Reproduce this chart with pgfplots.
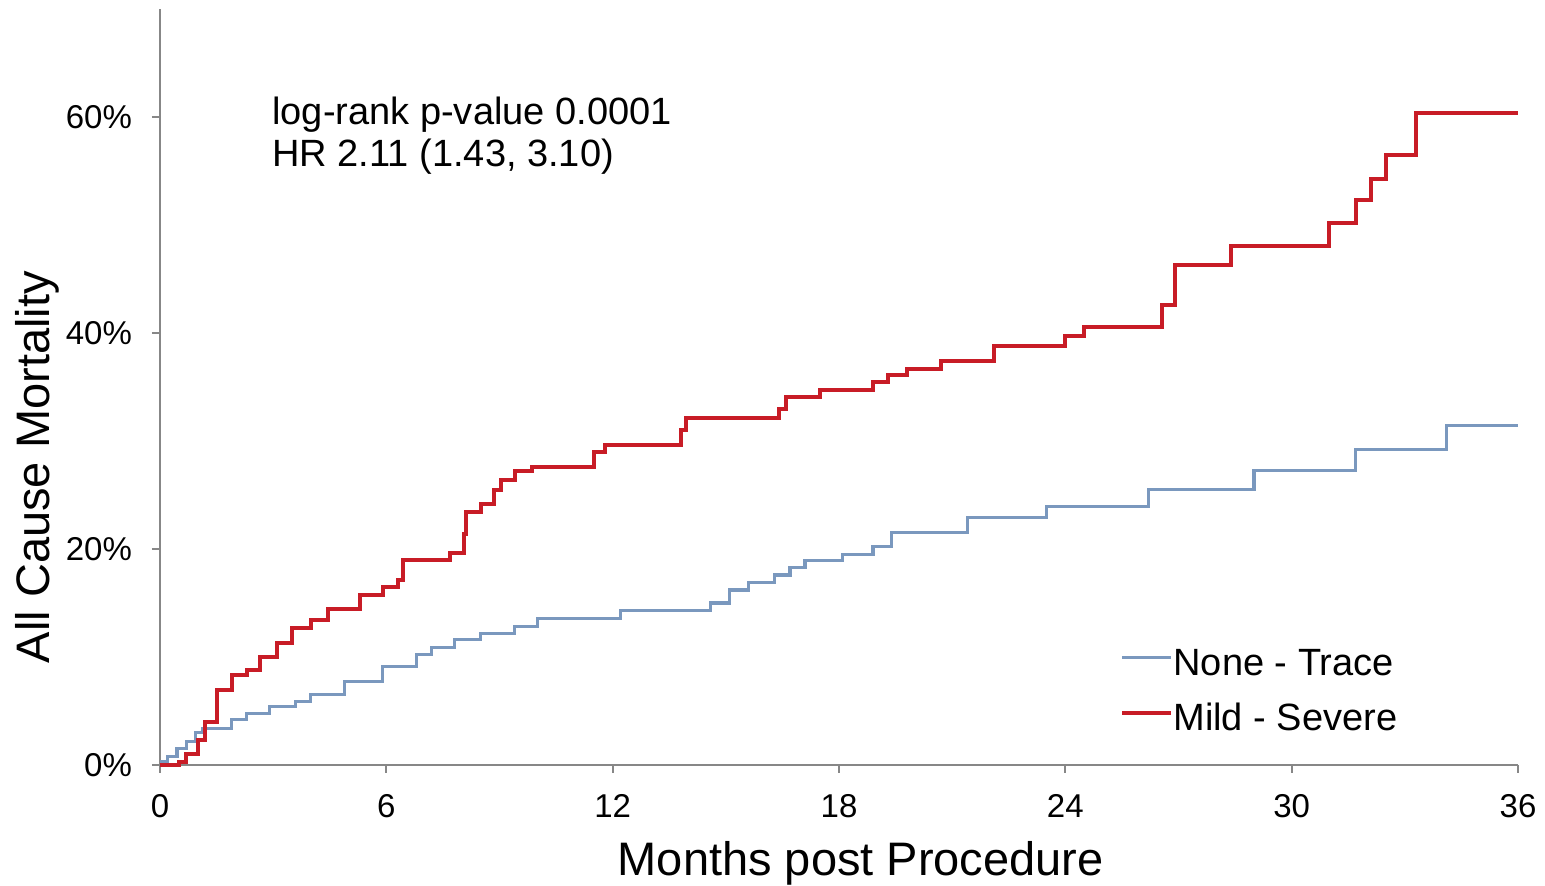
\documentclass[border=0pt]{standalone}
\usepackage{fontspec}
\setmainfont{Liberation Sans}
\usepackage{pgfplots}
\pgfplotsset{compat=1.18}
\definecolor{cred}{RGB}{200,28,38}
\definecolor{cblue}{RGB}{122,152,190}
\definecolor{axgray}{RGB}{135,135,135}
\begin{document}
\begin{tikzpicture}
\begin{axis}[name=ax,
  scale only axis, width=679pt, height=378pt,
  xmin=0, xmax=36, ymin=0, ymax=70,
  axis x line=bottom, axis y line=left,
  axis line style={-, draw=axgray, line width=1.2pt},
  xtick={0,6,...,36}, ytick={0,20,40,60},
  yticklabel={\pgfmathprintnumber{\tick}\%},
  /pgf/number format/assume math mode=true,
  tick align=outside, major tick length=4pt,
  tick style={axgray, line width=1pt},
  ticklabel style={font=\fontsize{16.5}{18}\selectfont},
  yticklabel style={xshift=-6.5pt},
  xticklabel style={yshift=-7pt},
  xlabel={Months post Procedure}, ylabel={All Cause Mortality},
  label style={font=\fontsize{23.5}{26}\selectfont},
  xlabel style={at={(axis description cs:0.516,-0.13)}, anchor=center},
  ylabel style={at={(axis description cs:-0.09,0.394)}, anchor=center},
  legend style={draw=none, fill=none, at={(axis cs:25.45,6.8)}, anchor=west,
    font=\fontsize{19}{21}\selectfont, row sep=8.5pt, inner sep=0pt,
    /tikz/every odd column/.append style={column sep=-2pt}},
  legend cell align=left,
  legend image code/.code={\draw[#1] (0pt,3pt) -- (24.5pt,3pt);},
  clip=false,
]
\addplot[const plot, color=cblue, line width=1.6pt] coordinates {
(0,0.3) (0.2,0.8) (0.45,1.5) (0.7,2.2) (0.95,3.0) (1.14,3.4) (1.9,4.2) (2.3,4.8)
(2.9,5.4) (3.6,5.9) (4.0,6.5) (4.9,7.7) (5.9,9.1) (6.8,10.2) (7.2,10.9) (7.8,11.6)
(8.5,12.2) (9.4,12.8) (10.0,13.6) (12.2,14.3) (14.6,15.0) (15.1,16.2) (15.6,16.9)
(16.3,17.6) (16.7,18.3) (17.1,18.9) (18.1,19.5) (18.9,20.2) (19.4,21.5) (21.4,22.9)
(23.5,23.9) (26.2,25.5) (29.0,27.3) (31.7,29.2) (34.1,31.4) (36,31.4)
};
\addlegendentry{None - Trace}
\addplot[const plot, color=cred, line width=2pt] coordinates {
(0,0) (0.5,0.3) (0.7,1.0) (1.0,2.3) (1.2,4.0) (1.5,6.9) (1.9,8.3) (2.3,8.8)
(2.65,10.0) (3.1,11.3) (3.5,12.7) (4.0,13.4) (4.45,14.4) (5.3,15.7) (5.9,16.5)
(6.3,17.1) (6.45,19.0) (7.7,19.6) (8.05,21.4) (8.1,23.4) (8.5,24.2) (8.85,25.5)
(9.05,26.4) (9.4,27.2) (9.85,27.6) (11.5,29.0) (11.8,29.6) (13.8,31.0) (13.95,32.1)
(16.4,33.0) (16.6,34.1) (17.5,34.7) (18.9,35.5) (19.3,36.1) (19.8,36.7) (20.7,37.4)
(22.1,38.8) (24.0,39.7) (24.5,40.6) (26.55,42.6) (26.9,46.3) (28.4,48.1) (31.0,50.2)
(31.7,52.3) (32.1,54.3) (32.5,56.5) (33.3,60.4) (36,60.4)
};
\addlegendentry{Mild - Severe}
\node[anchor=base west, inner sep=0pt, font=\fontsize{19}{21}\selectfont] at (axis cs:2.97,59.26) {log-rank p-value 0.0001};
\node[anchor=base west, inner sep=0pt, font=\fontsize{19}{21}\selectfont] at (axis cs:2.97,55.37) {HR 2.11 (1.43, 3.10)};
\end{axis}
\pgfresetboundingbox
\path ([shift={(-80pt,-60.5pt)}]ax.south west) rectangle ([shift={(13.5pt,4.5pt)}]ax.north east);
\end{tikzpicture}
\end{document}
